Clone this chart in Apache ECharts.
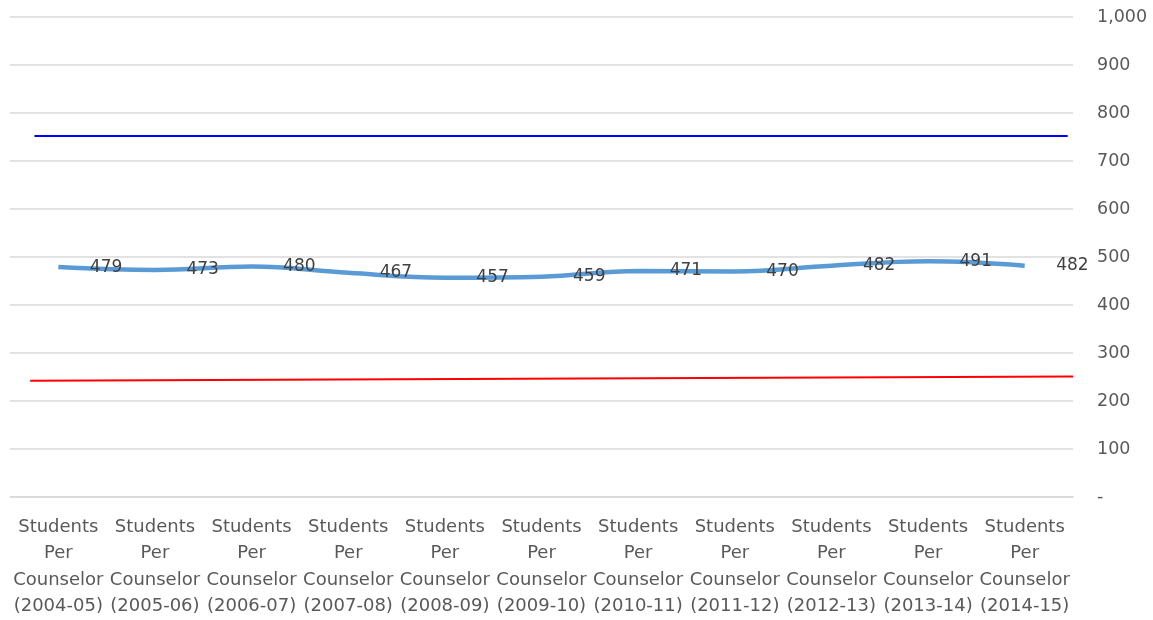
<!DOCTYPE html>
<html>
<head>
<meta charset="utf-8">
<script src="https://cdn.jsdelivr.net/npm/echarts@6/dist/echarts.min.js"></script>
<style>
html,body{margin:0;padding:0;background:#fff;}
#c{width:1153px;height:620px;}
</style>
</head>
<body>
<div id="c"></div>
<script>
const categories = [
  "Students\nPer\nCounselor\n(2004-05)",
  "Students\nPer\nCounselor\n(2005-06)",
  "Students\nPer\nCounselor\n(2006-07)",
  "Students\nPer\nCounselor\n(2007-08)",
  "Students\nPer\nCounselor\n(2008-09)",
  "Students\nPer\nCounselor\n(2009-10)",
  "Students\nPer\nCounselor\n(2010-11)",
  "Students\nPer\nCounselor\n(2011-12)",
  "Students\nPer\nCounselor\n(2012-13)",
  "Students\nPer\nCounselor\n(2013-14)",
  "Students\nPer\nCounselor\n(2014-15)"
];
const studentsPerCounselor = [479, 473, 480, 467, 457, 459, 471, 470, 482, 491, 482];
// reference lines drawn across the plot: [x fraction of plot width, value]
const blueLine = [[0.023, 752], [0.995, 752]];
const redLine = [[0.019, 242], [1.0, 251]];
const yTicks = { min: 0, max: 1000, interval: 100 };

const FONT = 'DejaVu Sans';
const chart = echarts.init(document.getElementById('c'));
chart.setOption({
  animation: false,
  grid: { left: 10, right: 80, top: 17, bottom: 123 },
  xAxis: [
    {
      type: 'category',
      data: categories,
      boundaryGap: true,
      axisLine: { show: true, lineStyle: { color: '#d9d9d9', width: 1.5 } },
      axisTick: { show: false },
      axisLabel: {
        interval: 0,
        color: '#595959',
        fontFamily: FONT,
        fontSize: 18,
        lineHeight: 26.5,
        margin: 17
      }
    },
    { type: 'value', min: 0, max: 1, show: false }
  ],
  yAxis: {
    type: 'value',
    position: 'right',
    min: yTicks.min,
    max: yTicks.max,
    interval: yTicks.interval,
    axisLine: { show: false },
    axisTick: { show: false },
    splitLine: { lineStyle: { color: '#d9d9d9', width: 1.5 } },
    axisLabel: {
      align: 'left',
      margin: 24,
      color: '#595959',
      fontFamily: FONT,
      fontSize: 17.5,
      formatter: v => v === 0 ? '-' : v.toLocaleString('en-US')
    }
  },
  series: [
    {
      type: 'line',
      xAxisIndex: 1,
      data: blueLine,
      symbol: 'none',
      lineStyle: { color: '#0000ff', width: 2 },
      silent: true
    },
    {
      type: 'line',
      xAxisIndex: 1,
      data: redLine,
      symbol: 'none',
      lineStyle: { color: '#ff0000', width: 2 },
      silent: true
    },
    {
      type: 'line',
      data: studentsPerCounselor,
      smooth: 0.4,
      symbol: 'circle',
      symbolSize: 1,
      itemStyle: { color: 'rgba(0,0,0,0)' },
      lineStyle: { color: '#5b9bd5', width: 4.5 },
      label: {
        show: true,
        position: 'right',
        distance: 31,
        color: '#404040',
        fontFamily: FONT,
        fontSize: 17
      }
    }
  ]
});
</script>
</body>
</html>
